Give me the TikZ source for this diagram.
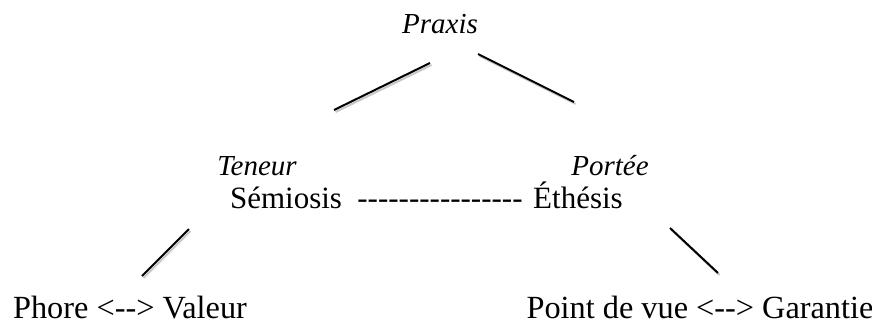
\documentclass[tikz,border=0pt]{standalone}
\usepackage{fontspec}
\setmainfont{Liberation Serif}
\newcommand\hy{\mbox{-}}
\begin{document}
\begin{tikzpicture}[x=1pt,y=1pt,
  txt/.style={inner sep=0pt,anchor=base,font=\fontsize{32.3}{38}\selectfont},
  mtxt/.style={txt,font=\fontsize{31}{37}\selectfont},
  itxt/.style={txt,font=\fontsize{29}{35}\selectfont\itshape},
  stroke/.style={line width=2pt,black},
  shade/.style={line width=2pt,black!22}]
\useasboundingbox (0,0) rectangle (872,325);
% texts
\node[itxt] (praxis) at (440,292) {Praxis};
\node[itxt] (teneur) at (257,150) {Teneur};
\node[itxt] (portee) at (610,150) {Portée};
\node[mtxt] (semiosis) at (286,117) {Sémiosis};
\node[mtxt] (dashes) at (440,117) {\hy\hy\hy\hy\hy\hy\hy\hy\hy\hy\hy\hy\hy\hy\hy\hy};
\node[mtxt] (ethesis) at (578,117) {Éthésis};
\node[txt] (phore) at (130,7) {Phore <\hy\hy> Valeur};
\node[txt] (point) at (700,7) {Point de vue <\hy\hy> Garantie};
% line end points
\coordinate (a1) at (334,215); \coordinate (a2) at (430,262);
\coordinate (b1) at (478,271); \coordinate (b2) at (574,223);
\coordinate (c1) at (142,49);  \coordinate (c2) at (189,96);
\coordinate (d1) at (670,97);  \coordinate (d2) at (718,52);
% shadows
\foreach \p/\q in {a1/a2,b1/b2,c1/c2,d1/d2}
  \draw[shade] ([shift={(1.5,-2)}]\p) -- ([shift={(1.5,-2)}]\q);
% lines
\draw[stroke] (a1) -- (a2);
\draw[stroke] (b1) -- (b2);
\draw[stroke] (c1) -- (c2);
\draw[stroke] (d1) -- (d2);
\end{tikzpicture}
\end{document}
